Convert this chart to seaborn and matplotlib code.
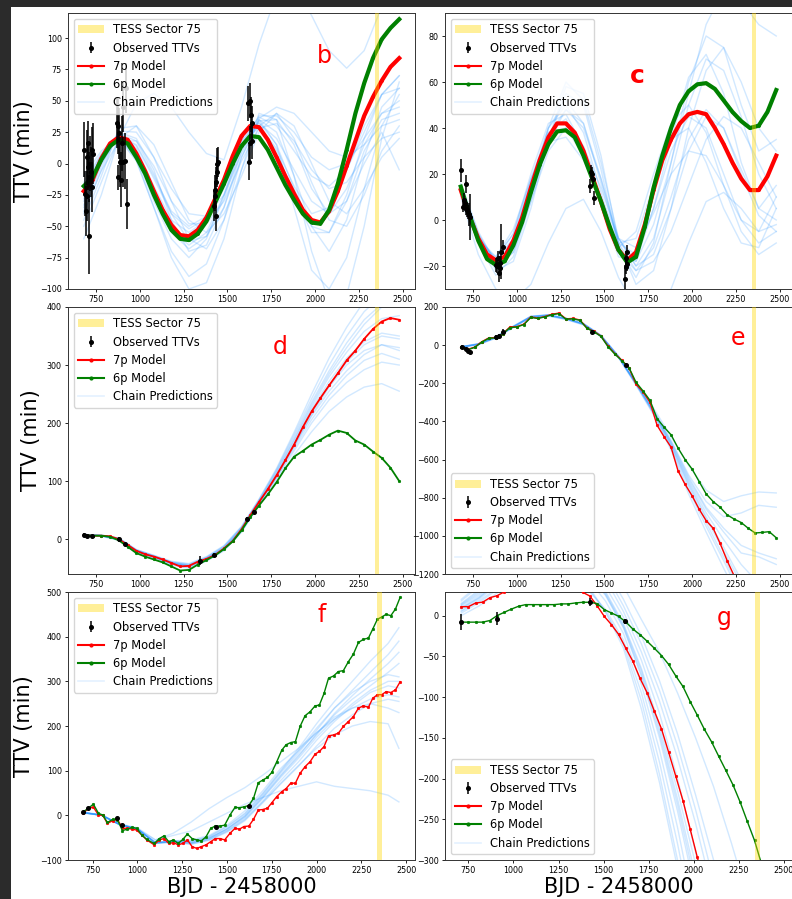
import matplotlib
matplotlib.use("Agg")
import numpy as np
import pandas as pd
import matplotlib.pyplot as plt
import seaborn as sns
from matplotlib.patches import Patch, Rectangle
from matplotlib.lines import Line2D

# ---------------- data ----------------
TESS_START, TESS_END = 2340, 2367
X_TICKS = [750, 1000, 1250, 1500, 1750, 2000, 2250, 2500]

grid50 = [680, 730, 780, 830, 880, 930, 980, 1030, 1080, 1130, 1180, 1230, 1280, 1330,
          1380, 1430, 1480, 1530, 1580, 1630, 1680, 1730, 1780, 1830, 1880, 1930, 1980,
          2030, 2080, 2130, 2180, 2230, 2280, 2330, 2380, 2430, 2480]
grid100 = [680, 780, 880, 980, 1080, 1180, 1280, 1380, 1480, 1580, 1680, 1780, 1880,
           1980, 2080, 2180, 2280, 2380, 2480]

# ---- panel b ----
b_red = [-22, -13, 4, 16, 21, 19, 8, -6, -22, -37, -49, -57, -58, -53, -43, -28, -13, 6, 22,
         30, 29, 19, 5, -10, -24, -37, -45, -47, -38, -22, -2, 18, 38, 53, 66, 77, 84]
b_green = [-18, -11, 3, 14, 19, 16, 5, -8, -25, -40, -53, -60, -61, -56, -46, -31, -16, 0, 14,
           22, 21, 11, -3, -17, -29, -40, -47, -48, -37, -16, 11, 40, 64, 84, 99, 108, 115]
b_obs_x = [682, 688, 691, 697, 701, 706, 712, 716, 720, 725, 729, 735, 710, 703,
           870, 874, 878, 882, 886, 890, 896, 901, 905, 914, 920, 924,
           1425, 1428, 1430, 1433, 1436, 1439, 1442, 1445,
           1618, 1622, 1626, 1630, 1634, 1638, 1642]
b_obs_y = [11, -24, -38, 5, -26, 16, -58, 0, -7, 11, -19, 8, -11, -3,
           32, -11, 30, 24, 1, -13, 16, 45, 1, 2, 60, -32,
           -34, -21, -26, -42, -15, -7, 0, 1,
           48, 1, 16, 50, 39, 18, 32]
b_obs_err = [22, 18, 20, 22, 20, 18, 30, 22, 20, 18, 20, 24, 20, 18,
             20, 10, 22, 20, 20, 22, 22, 20, 20, 22, 20, 20,
             12, 12, 12, 12, 12, 12, 12, 12,
             14, 14, 14, 14, 14, 14, 14]
b_chains = [
    [-30, 0, 22, 15, -10, -38, -50, -42, -15, 18, 32, 20, -5, -30, -40, -20, 15, 40, 50],
    [-40, -5, 25, 20, -5, -45, -70, -65, -35, 10, 35, 25, -10, -50, -70, -45, 5, 45, 60],
    [-15, 8, 22, 5, -30, -60, -75, -60, -25, 15, 30, 10, -25, -55, -55, -25, 20, 55, 70],
    [-20, 6, 24, 12, -18, -45, -55, -45, -20, 15, 38, 38, 25, 5, -5, 0, 20, 40, 45],
    [-45, -10, 28, 30, 5, -30, -60, -68, -45, -5, 30, 40, 20, -15, -45, -50, -25, 10, 30],
    [-25, 5, 20, 2, -35, -70, -90, -80, -45, 5, 35, 15, -35, -85, -100, -75, -20, 30, 55],
    [-35, -2, 26, 25, 5, -20, -40, -42, -25, 8, 36, 45, 40, 25, 10, 5, 15, 30, 35],
    [-10, 10, 21, 3, -35, -75, -100, -95, -60, -5, 40, 35, -10, -70, -110, -105, -50, 20, 65],
    [-28, 2, 23, 14, -12, -40, -52, -44, -18, 18, 37, 30, 10, -10, -18, -5, 25, 55, 70],
    [-50, -15, 20, 30, 15, -15, -45, -55, -40, -10, 25, 40, 30, 0, -30, -40, -20, 5, 20],
    [-18, 7, 22, 8, -22, -52, -65, -55, -25, 15, 33, 15, -20, -50, -55, -30, 10, 35, 40],
    [-33, 0, 24, 18, -8, -40, -62, -58, -35, 5, 34, 35, 15, -20, -40, -30, 0, 25, -5],
    [-60, -25, 20, 48, 56, 45, 25, 8, 3, 45, 95, 135, 140, 118, 90, 76, 90, 125, 150],
    [-22, 4, 20, 6, -25, -55, -68, -58, -28, 12, 30, 12, -18, -40, -35, -5, 30, 55, 60],
    [-38, -6, 18, 18, -2, -30, -48, -48, -30, 2, 28, 32, 18, -5, -20, -15, 5, 20, 25],
]

# ---- panel c ----
c_red = [13, 1.5, -8, -15, -17.5, -16, -9, 1, 14, 26, 36, 42, 42, 38, 30, 19, 8, -4, -13,
         -17.5, -14, -2, 13, 26, 35, 42, 46, 47, 46, 40, 33, 25, 18, 13, 13, 19, 28]
c_green = [14.5, 2, -9, -17, -19.5, -18, -11, -1, 12, 24, 33, 38.5, 39, 36, 28, 18, 8, -3, -13,
           -18.5, -16, -3, 14, 28, 40, 50, 56, 59, 59.5, 57, 52, 47, 43, 40, 41, 47, 56.5]
c_obs_x = [684, 693, 697, 703, 708, 712, 716, 722, 728, 735,
           879, 887, 894, 898, 902, 906, 911, 921,
           1418, 1424, 1430, 1437, 1443,
           1615, 1620, 1625, 1628, 1630]
c_obs_y = [21.7, 5.8, 8.7, 7.2, 15.6, 5, 4.3, 3.6, 2.6, 1.2,
           -19.5, -20.2, -16.6, -23, -21, -18.8, -13.7, -11.8,
           14.9, 21, 20.2, 18, 9.4,
           -25.5, -20.5, -16.5, -19, -14]
c_obs_err = [5, 2.5, 3, 2.5, 4, 3, 3, 3, 5, 10,
             3, 3, 3, 4, 3, 3, 12, 3,
             3, 3, 3, 3, 3,
             6, 3, 3, 3, 3]
c_chains = [
    [12, -9, -18, -8, 16, 38, 44, 30, 6, -16, -18, 5, 30, 45, 40, 20, 0, -5, 10],
    [15, -6, -20, -14, 8, 35, 55, 50, 22, -12, -25, -10, 25, 60, 80, 75, 50, 30, 35],
    [11, -10, -16, -4, 18, 34, 36, 26, 10, -8, -12, 3, 20, 30, 28, 15, 0, -10, -5],
    [14, -7, -22, -18, 5, 35, 58, 55, 28, -10, -28, -22, 5, 40, 65, 75, 60, 40, 30],
    [13, -8, -17, -6, 20, 42, 46, 32, 8, -12, -5, 20, 42, 50, 38, 15, -5, -15, -10],
    [16, -5, -19, -12, 12, 40, 60, 52, 25, -8, -20, -8, 20, 50, 70, 65, 45, 20, 5],
    [10, -15, -30, -35, -28, -10, 5, 9, -5, -25, -38, -40, -30, -10, 8, 12, 5, -5, -2],
    [12, -10, -24, -16, 8, 30, 40, 32, 14, -8, -20, -15, 5, 30, 45, 40, 22, 5, 0],
    [14, -7, -18, -10, 14, 37, 48, 40, 18, -8, -18, -2, 25, 55, 85, 100, 95, 85, 80],
    [13, -9, -20, -10, 15, 40, 50, 38, 12, -14, -22, -12, 10, 35, 48, 40, 20, 2, -5],
    [12, -8, -16, -6, 18, 38, 40, 28, 8, -10, -8, 15, 35, 40, 25, 5, -10, -12, 5],
    [15, -6, -18, -8, 17, 40, 52, 42, 16, -10, -15, 5, 35, 62, 72, 55, 25, 5, 15],
    [14, -8, -21, -14, 10, 34, 48, 42, 18, -10, -22, -18, -5, 15, 35, 45, 40, 25, 10],
]

# ---- panel d ----
d_red = [7, 6, 6, 5, 0, -10, -20, -26, -30, -35, -41, -47, -46, -39, -34, -27, -16, -3, 17,
         41, 64, 86, 110, 136, 163, 193, 220, 243, 265, 286, 308, 325, 345, 362, 375, 381, 378]
d_green = [7, 6, 6, 4, -2, -13, -24, -30, -35, -40, -47, -54, -53, -44, -36, -28, -17, -4, 15,
           38, 58, 77, 98, 122, 142, 152, 163, 171, 180, 187, 183, 170, 163, 151, 140, 123, 100]
d_obs_x = [682, 700, 725, 880, 918, 1345, 1425, 1612, 1650]
d_obs_y = [7, 6, 5, 1, -9, -37, -27, 35, 47]
d_obs_err = [3, 3, 3, 3, 3, 8, 4, 4, 4]
d_chains = [
    [7, 6, 1, -19, -29, -40, -44, -32, -14, 19, 66, 116, 172, 232, 285, 330, 370, 400, 410],
    [8, 6, 0, -21, -31, -42, -47, -35, -17, 15, 62, 108, 160, 212, 255, 290, 318, 335, 330],
    [7, 7, 2, -18, -28, -39, -43, -31, -12, 21, 68, 120, 180, 242, 300, 350, 392, 420, 430],
    [6, 5, -1, -22, -32, -43, -49, -37, -19, 13, 60, 104, 152, 200, 240, 270, 292, 305, 300],
    [7, 6, 0, -20, -30, -41, -46, -34, -16, 17, 64, 112, 166, 224, 272, 312, 340, 355, 350],
    [6, 5, -2, -23, -33, -45, -50, -38, -20, 12, 58, 100, 145, 185, 220, 245, 262, 268, 255],
    [8, 7, 1, -19, -29, -40, -45, -32, -13, 20, 67, 118, 176, 236, 290, 338, 378, 405, 415],
    [7, 6, 0, -20, -31, -41, -46, -34, -16, 16, 63, 110, 163, 218, 265, 305, 335, 350, 345],
    [7, 6, -1, -21, -30, -42, -47, -35, -17, 14, 61, 106, 156, 206, 248, 282, 308, 320, 310],
    [7, 6, 1, -20, -30, -40, -45, -33, -15, 18, 65, 114, 170, 228, 280, 322, 358, 380, 385],
    [8, 7, 2, -18, -28, -38, -42, -30, -11, 22, 69, 122, 184, 250, 312, 365, 410, 440, 450],
    [7, 6, 0, -21, -31, -42, -47, -35, -17, 15, 62, 108, 160, 214, 262, 300, 325, 335, 325],
]

# ---- panel e ----
e_red_x = [680, 720, 760, 800, 840, 880, 920, 960, 1000, 1040, 1080, 1120, 1160, 1200, 1240,
           1280, 1320, 1360, 1400, 1440, 1480, 1520, 1560, 1600, 1640, 1680, 1720, 1760, 1800,
           1840, 1880, 1920, 1960, 2000, 2040, 2080, 2120, 2160, 2200, 2240, 2280]
e_red = [-10, -22, -10, 18, 38, 40, 60, 95, 97, 110, 148, 142, 150, 162, 168, 138, 140, 132,
         90, 72, 48, -5, -45, -80, -120, -205, -245, -300, -420, -480, -535, -660, -730, -790,
         -860, -920, -960, -1040, -1130, -1210, -1290]
e_green_x = e_red_x + [2320, 2360, 2400, 2440, 2480]
e_green = [-12, -24, -12, 16, 36, 38, 58, 92, 95, 108, 145, 140, 148, 160, 165, 136, 138, 130,
           88, 70, 46, -8, -48, -82, -118, -195, -240, -290, -385, -430, -470, -540, -600, -650,
           -715, -780, -820, -850, -890, -912, -930, -960, -985, -982, -978, -1010]
e_obs_x = [688, 712, 722, 735, 882, 900, 920, 1427, 1625]
e_obs_y = [-10, -21, -33, -38, 45, 49, 71, 71, -103]
e_obs_err = [10, 10, 10, 10, 10, 10, 12, 8, 8]
e_chains = [
    [-10, 5, 40, 96, 148, 156, 138, 110, 48, -62, -200, -350, -520, -720, -900, -1060, -1230, -1400, -1550],
    [-8, 8, 44, 100, 152, 160, 142, 114, 52, -56, -195, -330, -480, -630, -760, -820, -790, -770, -775],
    [-9, 6, 42, 98, 150, 158, 140, 112, 50, -58, -200, -340, -500, -680, -820, -900, -880, -840, -850],
    [-11, 3, 38, 94, 146, 154, 136, 108, 46, -64, -205, -355, -530, -740, -930, -1110, -1300, -1480, -1650],
    [-10, 6, 42, 99, 150, 159, 141, 112, 50, -60, -198, -345, -510, -700, -860, -980, -1090, -1110, -1150],
    [-12, 2, 36, 92, 144, 152, 134, 106, 44, -66, -210, -365, -550, -780, -980, -1170, -1350, -1550, -1700],
    [-10, 5, 41, 97, 149, 157, 139, 111, 49, -61, -202, -348, -515, -710, -880, -1020, -1150, -1250, -1300],
    [-9, 7, 43, 98, 151, 158, 140, 113, 51, -59, -200, -342, -505, -690, -850, -960, -1050, -1090, -1120],
    [-11, 4, 39, 95, 147, 155, 137, 109, 47, -63, -207, -360, -540, -760, -950, -1130, -1320, -1500, -1680],
    [-10, 5, 40, 96, 148, 156, 138, 110, 48, -62, -203, -352, -525, -730, -910, -1080, -1250, -1420, -1580],
]

# ---- panel f ----
f_model_x = [698, 726, 754, 782, 806, 832, 862, 888, 916, 944, 970, 996, 1024, 1052, 1093,
             1122, 1148, 1175, 1201, 1227, 1253, 1279, 1305, 1331, 1357, 1383, 1409, 1435,
             1461, 1487, 1517, 1545, 1569, 1595, 1622, 1648, 1675, 1700, 1726, 1750, 1778,
             1806, 1830, 1856, 1882, 1908, 1936, 1964, 1992, 2016, 2042, 2067, 2095, 2122,
             2150, 2178, 2206, 2234, 2262, 2290, 2314, 2340, 2364, 2389, 2415, 2441, 2467]
f_red = [4.5, 16, 18, 1, 0, -18, -12, -9, -29, -29, -31, -33, -44, -55, -66, -55, -52, -63,
         -61, -66, -63, -55, -70, -74, -70, -66, -59, -52, -52, -55, -40, -29, -31, -25, -24,
         -9, 12, 13, 16, 28, 42, 53, 60, 72, 72, 94, 109, 120, 137, 143, 154, 178, 180, 184,
         199, 210, 221, 240, 245, 242, 262, 270, 270, 277, 275, 281, 299]
f_green = [8, 16, 25, 4.5, 0.7, -16, -9, -10, -34, -31, -27, -29, -44, -54, -63, -52, -46,
           -59, -55, -63, -54, -42, -52, -55, -57, -48, -29, -24, -24, -22, 1, 18, 17, 19, 22,
           38, 73, 79, 85, 96, 120, 146, 158, 163, 165, 199, 223, 232, 245, 247, 273, 307, 312,
           322, 324, 344, 361, 387, 394, 397, 417, 439, 444, 450, 447, 462, 488]
f_obs_x = [698, 726, 884, 912, 1439, 1622]
f_obs_y = [8, 17, -6, -22, -27, 22]
f_obs_err = [2, 2, 2, 2, 2, 2]
f_chain_x = [700, 800, 900, 1000, 1100, 1200, 1300, 1400, 1500, 1600, 1700, 1800, 1900,
             2000, 2100, 2200, 2300, 2400, 2460]
f_chains = [
    [6, 0, -21, -31, -62, -58, -60, -50, -30, 0, 45, 95, 140, 190, 240, 280, 320, 360, 390],
    [7, 1, -20, -30, -60, -57, -58, -48, -25, 5, 50, 100, 150, 205, 255, 300, 345, 385, 420],
    [6, 0, -21, -32, -63, -60, -65, -56, -38, -12, 28, 70, 110, 155, 195, 225, 250, 260, 255],
    [5, 0, -20, -31, -61, -58, -62, -52, -33, -5, 38, 85, 128, 175, 215, 250, 280, 300, 300],
    [7, 1, -21, -30, -61, -57, -55, -45, -22, 10, 55, 105, 145, 185, 220, 240, 250, 240, 230],
    [6, 0, -20, -31, -62, -59, -63, -54, -35, -8, 32, 78, 120, 168, 210, 245, 275, 290, 285],
    [6, 0, -20, -30, -55, -45, -35, -15, 5, 25, 40, 55, 65, 75, 65, 60, 55, 45, 30],
    [6, 1, -19, -28, -55, -40, -15, 15, 40, 62, 90, 120, 150, 185, 215, 240, 260, 270, 265],
    [6, 0, -21, -31, -62, -59, -62, -52, -30, -2, 42, 90, 135, 180, 225, 260, 290, 320, 340],
    [6, 0, -20, -30, -61, -58, -58, -47, -26, 3, 48, 98, 145, 195, 240, 275, 300, 315, 310],
    [5, 0, -21, -32, -63, -60, -64, -55, -36, -10, 30, 72, 112, 150, 180, 200, 210, 205, 150],
    [6, 0, -20, -31, -62, -58, -61, -51, -31, -3, 40, 88, 132, 182, 228, 268, 305, 340, 365],
]

# ---- panel g ----
g_model_x = [710, 750, 790, 829, 869, 909, 948, 988, 1028, 1067, 1107, 1147, 1186, 1226, 1266,
             1305, 1345, 1385, 1424, 1464, 1504, 1543, 1583, 1623, 1662, 1702, 1742, 1781,
             1821, 1861, 1900, 1940, 1980, 2019, 2059, 2099, 2138, 2178, 2218, 2257, 2297,
             2337, 2376]
g_red = [11, 11, 15.5, 16.5, 22, 24.5, 29, 33, 37, 40, 43, 45, 46, 46, 44, 40, 35, 28.5, 24,
         12, -1, -11, -23, -40, -56, -77, -95, -117, -139, -168, -197, -227, -262, -296, -330]
g_green = [-8, -8, -8, -8, -6, 0, 4, 8, 11.5, 13.5, 13.5, 13.5, 13.5, 13.5, 14.4, 14.4, 15.6,
           16.4, 16.4, 14.8, 7.4, 3.3, -0.8, -7.8, -16.4, -23.4, -31.6, -40, -49, -60, -74,
           -87, -105.5, -122, -139.6, -155, -172.5, -190, -208, -228.7, -252.6, -276, -305]
g_obs_x = [710, 906, 1422, 1621]
g_obs_y = [-8.2, -4, 16.4, -7]
g_obs_err = [10, 8, 5, 3]
g_chain_x = [710, 810, 910, 1010, 1110, 1210, 1310, 1410, 1510, 1610, 1710, 1810, 1910, 2010,
             2110, 2210, 2310, 2410]
g_chains = [
    [5, 18, 34, 48, 56, 58, 52, 38, 5, -40, -115, -205, -310, -430, -560, -700, -850, -1000],
    [12, 26, 46, 62, 72, 74, 70, 58, 30, -10, -65, -135, -215, -305, -405, -515, -635, -765],
    [8, 22, 40, 56, 66, 68, 64, 52, 25, -15, -75, -150, -240, -340, -450, -570, -700, -840],
    [15, 32, 54, 72, 82, 86, 84, 72, 45, 5, -45, -105, -175, -255, -345, -445, -555, -675],
    [10, 24, 44, 60, 70, 72, 68, 56, 28, -12, -68, -140, -225, -320, -425, -540, -665, -800],
    [6, 20, 38, 54, 64, 66, 60, 46, 18, -22, -85, -165, -260, -370, -490, -620, -760, -910],
    [18, 36, 60, 80, 92, 96, 94, 84, 58, 20, -25, -80, -145, -220, -300, -390, -490, -600],
    [3, 16, 32, 46, 54, 56, 50, 35, 5, -35, -105, -195, -300, -415, -540, -675, -820, -975],
    [13, 28, 48, 64, 74, 78, 74, 62, 36, -2, -55, -120, -200, -290, -390, -500, -620, -750],
    [9, 22, 42, 58, 68, 70, 66, 54, 26, -14, -72, -145, -232, -330, -440, -560, -690, -830],
    [0, 12, 28, 42, 50, 52, 46, 32, 8, -30, -95, -180, -280, -390, -510, -640, -780, -930],
    [14, 30, 56, 76, 88, 92, 90, 78, 52, 12, -35, -92, -160, -238, -325, -420, -525, -640],
    [20, 38, 62, 84, 98, 104, 104, 96, 72, 36, -5, -45, -95, -150, -210, -280, -355, -440],
]

# ---------------- drawing ----------------
CHAIN_COLOR = "#1E90FF"
W = 792
H = 899


def chain_frame(xs, chains):
    rows = []
    for i, ys in enumerate(chains):
        for x, y in zip(xs, ys):
            rows.append((i, x, y))
    return pd.DataFrame(rows, columns=["chain", "x", "y"])


def draw_panel(ax, chain_x, chains, red_x, red_y, green_x, green_y,
               ox, oy, oe, xlim, ylim, yticks, letter, lpos, bold, loc, lw, ms):
    sns.lineplot(data=chain_frame(chain_x, chains), x="x", y="y", units="chain",
                 estimator=None, sort=False, color=CHAIN_COLOR, alpha=0.2, lw=1.0,
                 ax=ax, legend=False, zorder=1)
    sns.lineplot(x=red_x[:len(red_y)], y=red_y, color="red", marker=".", ms=ms,
                 markeredgecolor="red", markeredgewidth=0.5, lw=lw, ax=ax, sort=False, zorder=3)
    sns.lineplot(x=green_x[:len(green_y)], y=green_y, color="green", marker=".", ms=ms,
                 markeredgecolor="green", markeredgewidth=0.5, lw=lw, ax=ax, sort=False, zorder=3)
    eb = ax.errorbar(ox, oy, yerr=oe, fmt="o", color="k", ms=2.6, elinewidth=1.1,
                     capsize=0, zorder=4)
    ax.axvspan(TESS_START, TESS_END, color="gold", alpha=0.4, lw=0, zorder=5)
    ax.set_xlim(*xlim)
    ax.set_ylim(*ylim)
    ax.set_xticks(X_TICKS)
    ax.set_yticks(yticks)
    ax.tick_params(labelsize=5.8, length=2.5, width=0.6, pad=2)
    for s in ax.spines.values():
        s.set_linewidth(0.7)
        s.set_color("#333333")
    ax.set_xlabel("")
    ax.set_ylabel("")
    ax.text(lpos[0], lpos[1], letter, transform=ax.transAxes, color="red",
            fontsize=18 if bold else 17, fontweight="bold" if bold else "normal",
            ha="center", va="center", zorder=6)
    handles = [
        Patch(facecolor="gold", alpha=0.4, edgecolor="none"),
        eb,
        Line2D([], [], color="red", marker=".", ms=4, lw=1.5),
        Line2D([], [], color="green", marker=".", ms=4, lw=1.5),
        Line2D([], [], color=CHAIN_COLOR, alpha=0.12, lw=1.2),
    ]
    labels = ["TESS Sector 75", "Observed TTVs", "7p Model", "6p Model", "Chain Predictions"]
    leg = ax.legend(handles, labels, loc=loc, fontsize=8.3, framealpha=0.8,
                    borderaxespad=0.5, handlelength=2.2, labelspacing=0.45)
    leg.set_zorder(10)


fig = plt.figure(figsize=(W / 100, H / 100), dpi=100)
fig.patch.set_facecolor("#2b2b2b")
fig.add_artist(Rectangle((11 / W, 0), 1, 1 - 7 / H, transform=fig.transFigure,
                         facecolor="white", edgecolor="none", zorder=-10))


def axes_at(left, top, bottom, width=347):
    return fig.add_axes([left / W, (H - bottom) / H, width / W, (bottom - top) / H])


ax_b = axes_at(68, 13, 289)
ax_c = axes_at(445, 13, 289)
ax_d = axes_at(68, 307, 574)
ax_e = axes_at(445, 307, 574)
ax_f = axes_at(68, 592, 860)
ax_g = axes_at(445, 592, 860)

draw_panel(ax_b, grid100, b_chains, grid50, b_red, grid50, b_green,
           b_obs_x, b_obs_y, b_obs_err, (590, 2570), (-100, 120),
           [-100, -75, -50, -25, 0, 25, 50, 75, 100], "b", (0.74, 0.845), False,
           "upper left", 3.0, 2.5)
draw_panel(ax_c, grid100, c_chains, grid50, c_red, grid50, c_green,
           c_obs_x, c_obs_y, c_obs_err, (590, 2570), (-30, 90),
           [-20, 0, 20, 40, 60, 80], "c", (0.553, 0.772), True,
           "upper left", 3.0, 2.5)
draw_panel(ax_d, grid100, d_chains, grid50, d_red, grid50, d_green,
           d_obs_x, d_obs_y, d_obs_err, (590, 2570), (-60, 400),
           [0, 100, 200, 300, 400], "d", (0.611, 0.85), False,
           "upper left", 1.3, 3.5)
draw_panel(ax_e, grid100, e_chains, e_red_x, e_red, e_green_x, e_green,
           e_obs_x, e_obs_y, e_obs_err, (590, 2570), (-1200, 200),
           [-1200, -1000, -800, -600, -400, -200, 0, 200], "e", (0.844, 0.884), False,
           "lower left", 1.0, 3.5)
draw_panel(ax_f, f_chain_x, f_chains, f_model_x, f_red, f_model_x, f_green,
           f_obs_x, f_obs_y, f_obs_err, (612, 2550), (-100, 500),
           [-100, 0, 100, 200, 300, 400, 500], "f", (0.732, 0.914), False,
           "upper left", 1.0, 3.5)
draw_panel(ax_g, g_chain_x, g_chains, g_model_x, g_red, g_model_x, g_green,
           g_obs_x, g_obs_y, g_obs_err, (620, 2545), (-300, 29),
           [-300, -250, -200, -150, -100, -50, 0], "g", (0.804, 0.903), False,
           "lower left", 1.0, 3.5)

for ax in (ax_b, ax_d, ax_f):
    ax.set_ylabel("TTV (min)", fontsize=15)
for ax in (ax_f, ax_g):
    ax.set_xlabel("BJD - 2458000", fontsize=15, labelpad=1)

fig.savefig("out.png", dpi=100, facecolor=fig.get_facecolor())
